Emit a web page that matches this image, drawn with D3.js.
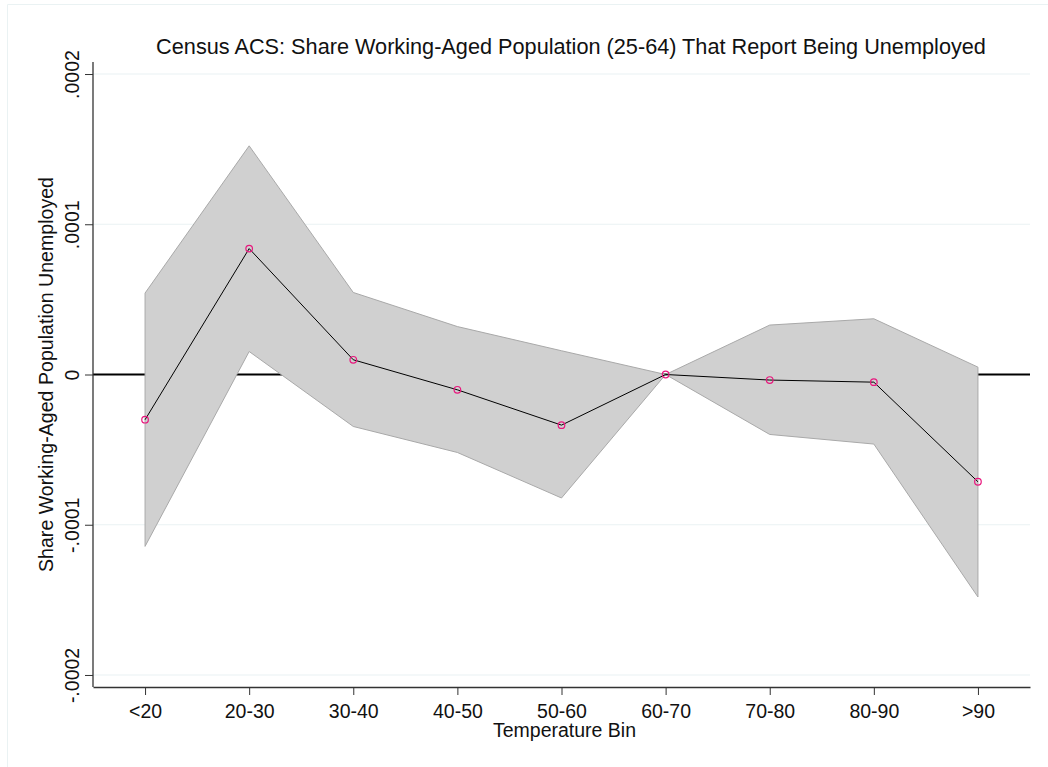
<!DOCTYPE html>
<html>
<head>
<meta charset="utf-8">
<script src="https://cdn.jsdelivr.net/npm/d3@7"></script>
<style>
  body { margin: 0; background: #fff; }
  text { font-family: "Liberation Sans", Arial, sans-serif; fill: #111; }
</style>
</head>
<body>
<div id="chart"></div>
<script>
// Temperature bins and estimates
const bins = ["<20", "20-30", "30-40", "40-50", "50-60", "60-70", "70-80", "80-90", ">90"];
const estimate = [-0.0000301, 0.0000838, 0.0000098, -0.0000102, -0.0000337, 0, -0.0000037, -0.0000051, -0.0000714];
const upperCI = [0.0000542, 0.0001522, 0.0000546, 0.0000319, 0.0000158, 0, 0.0000329, 0.0000371, 0.0000049];
const lowerCI = [-0.0001144, 0.0000153, -0.0000346, -0.0000519, -0.0000822, 0, -0.0000399, -0.0000463, -0.0001481];
const yTicks = [-0.0002, -0.0001, 0, 0.0001, 0.0002];
const yTickLabels = ["-.0002", "-.0001", "0", ".0001", ".0002"];

const width = 1048, height = 767;
const margin = { top: 62, right: 18, bottom: 80, left: 93 };
const innerWidth = width - margin.left - margin.right;
const innerHeight = height - margin.top - margin.bottom;

const data = bins.map((b, i) => ({ bin: b, est: estimate[i], lo: lowerCI[i], hi: upperCI[i] }));

const svg = d3.select("#chart")
    .append("svg")
    .attr("width", width)
    .attr("height", height);

// outer graph region frame (only top and left edges are visible)
svg.append("path")
    .attr("d", `M7.5,${height}V4.5H${width}`)
    .attr("fill", "none")
    .attr("stroke", "#eaf2f3")
    .attr("stroke-width", 1);

const g = svg.append("g")
    .attr("transform", `translate(${margin.left},${margin.top})`);

const x = d3.scalePoint()
    .domain(bins)
    .range([0, innerWidth])
    .padding(0.5);

const y = d3.scaleLinear()
    .domain([-0.000208, 0.000208])
    .range([innerHeight, 0]);

// gridlines
g.append("g")
    .selectAll("line")
    .data(yTicks.filter(d => d !== 0))
    .enter().append("line")
    .attr("x1", 0).attr("x2", innerWidth)
    .attr("y1", d => y(d)).attr("y2", d => y(d))
    .attr("stroke", "#eaf2f3")
    .attr("stroke-width", 1.2);

// zero reference line
g.append("line")
    .attr("x1", 0).attr("x2", innerWidth)
    .attr("y1", y(0)).attr("y2", y(0))
    .attr("stroke", "#000")
    .attr("stroke-width", 2);

// confidence band
const area = d3.area()
    .x(d => x(d.bin))
    .y0(d => y(d.lo))
    .y1(d => y(d.hi));

g.append("path")
    .datum(data)
    .attr("fill", "#d0d0d0")
    .attr("stroke", "#a9a9a9")
    .attr("stroke-width", 1)
    .attr("d", area);

// point estimates line
const line = d3.line()
    .x(d => x(d.bin))
    .y(d => y(d.est));

g.append("path")
    .datum(data)
    .attr("fill", "none")
    .attr("stroke", "#000")
    .attr("stroke-width", 1)
    .attr("d", line);

g.selectAll("circle")
    .data(data)
    .enter().append("circle")
    .attr("cx", d => x(d.bin))
    .attr("cy", d => y(d.est))
    .attr("r", 3.3)
    .attr("fill", "none")
    .attr("stroke", "#e8177d")
    .attr("stroke-width", 1.2);

// Y axis
const yAxis = g.append("g")
    .call(d3.axisLeft(y).tickValues(yTicks).tickSize(8).tickFormat((d, i) => yTickLabels[i]));
yAxis.select(".domain").attr("stroke", "#333").attr("stroke-width", 1.3).attr("d", `M-0,${innerHeight}V0`);
yAxis.selectAll(".tick line").attr("stroke", "#333");
yAxis.selectAll(".tick text")
    .attr("transform", "rotate(-90)")
    .attr("x", 0)
    .attr("y", -14)
    .attr("dy", 0)
    .attr("text-anchor", "middle")
    .style("font-size", "19.5px")
    .style("font-family", "Liberation Sans, Arial, sans-serif")
    .attr("fill", "#111");

// X axis
const xAxis = g.append("g")
    .attr("transform", `translate(0,${innerHeight})`)
    .call(d3.axisBottom(x).tickSize(8).tickSizeOuter(0));
xAxis.select(".domain").attr("stroke", "#333").attr("stroke-width", 1.3);
xAxis.selectAll(".tick line").attr("stroke", "#333");
xAxis.selectAll(".tick text")
    .attr("y", 31)
    .attr("dy", 0)
    .style("font-size", "19.5px")
    .style("font-family", "Liberation Sans, Arial, sans-serif")
    .attr("fill", "#111");

// axis titles
g.append("text")
    .attr("x", innerWidth / 2 + 3)
    .attr("y", innerHeight + 50)
    .attr("text-anchor", "middle")
    .style("font-size", "19.5px")
    .text("Temperature Bin");

g.append("text")
    .attr("transform", "rotate(-90)")
    .attr("x", -innerHeight / 2)
    .attr("y", -40)
    .attr("text-anchor", "middle")
    .style("font-size", "19.6px")
    .text("Share Working-Aged Population Unemployed");

// title
svg.append("text")
    .attr("x", 571)
    .attr("y", 54)
    .attr("text-anchor", "middle")
    .style("font-size", "21.7px")
    .text("Census ACS: Share Working-Aged Population (25-64) That Report Being Unemployed");
</script>
</body>
</html>
